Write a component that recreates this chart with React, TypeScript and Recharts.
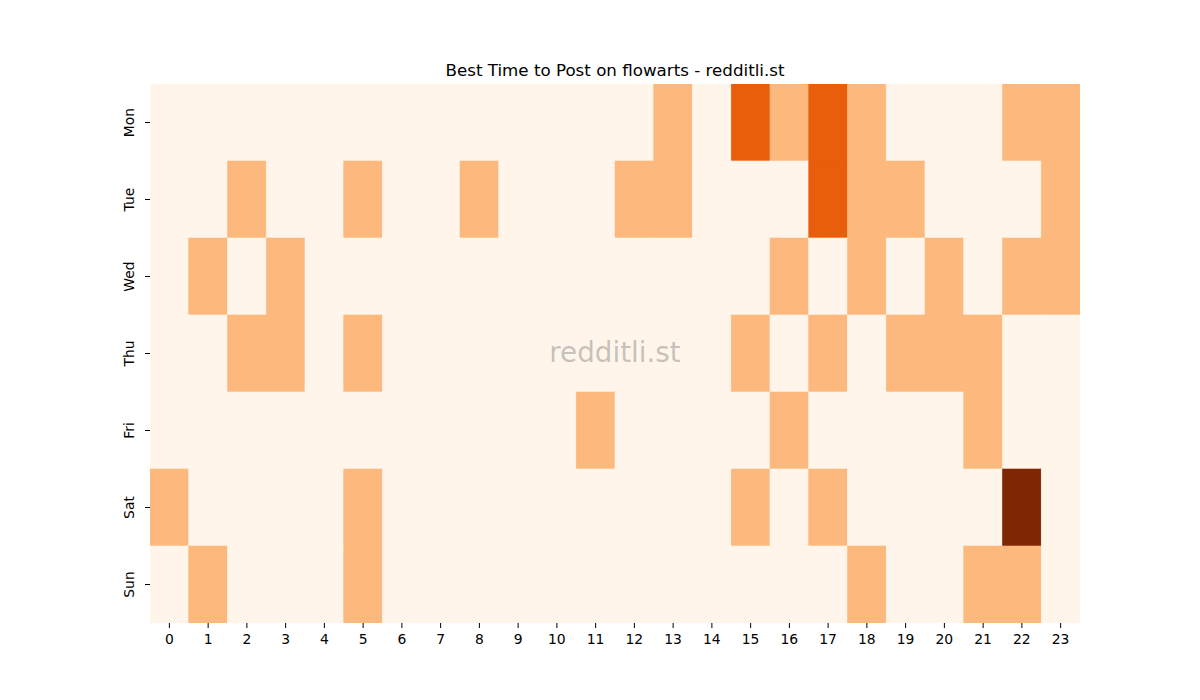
import React from 'react';
import { ScatterChart, Scatter, XAxis, YAxis } from 'recharts';

const hours = [0, 1, 2, 3, 4, 5, 6, 7, 8, 9, 10, 11, 12, 13, 14, 15, 16, 17, 18, 19, 20, 21, 22, 23];
const days = ['Mon', 'Tue', 'Wed', 'Thu', 'Fri', 'Sat', 'Sun'];

const monValues = [0, 0, 0, 0, 0, 0, 0, 0, 0, 0, 0, 0, 0, 1, 0, 2, 1, 2, 1, 0, 0, 0, 1, 1];
const tueValues = [0, 0, 1, 0, 0, 1, 0, 0, 1, 0, 0, 0, 1, 1, 0, 0, 0, 2, 1, 1, 0, 0, 0, 1];
const wedValues = [0, 1, 0, 1, 0, 0, 0, 0, 0, 0, 0, 0, 0, 0, 0, 0, 1, 0, 1, 0, 1, 0, 1, 1];
const thuValues = [0, 0, 1, 1, 0, 1, 0, 0, 0, 0, 0, 0, 0, 0, 0, 1, 0, 1, 0, 1, 1, 1, 0, 0];
const friValues = [0, 0, 0, 0, 0, 0, 0, 0, 0, 0, 0, 1, 0, 0, 0, 0, 1, 0, 0, 0, 0, 1, 0, 0];
const satValues = [1, 0, 0, 0, 0, 1, 0, 0, 0, 0, 0, 0, 0, 0, 0, 1, 0, 1, 0, 0, 0, 0, 3, 0];
const sunValues = [0, 1, 0, 0, 0, 1, 0, 0, 0, 0, 0, 0, 0, 0, 0, 0, 0, 0, 1, 0, 0, 1, 1, 0];

const dayValues = [monValues, tueValues, wedValues, thuValues, friValues, satValues, sunValues];
const levelColors = ['#fff5eb', '#fdb97d', '#e95e0d', '#7f2704'];
const dayTicks = [0, 1, 2, 3, 4, 5, 6];

const W = 1200;
const H = 700;
const M = { top: 84, right: 120, bottom: 47, left: 0 };
const Y_W = 150;
const X_H = 30;
const PLOT_W = W - M.left - M.right - Y_W;
const PLOT_H = H - M.top - M.bottom - X_H;
const CW = PLOT_W / hours.length;
const CH = PLOT_H / days.length;

const cells = dayValues.flatMap((row, d) =>
  hours.map((h, i) => ({ hour: h, day: d, value: row[i] }))
);

const FONT = "'DejaVu Sans', sans-serif";

const CellShape = (props: any) => {
  const { cx, cy, payload } = props;
  const fill = levelColors[payload.value] || levelColors[0];
  return (
    <rect
      x={cx - CW / 2}
      y={cy - CH / 2}
      width={CW}
      height={CH}
      fill={fill}
      stroke={fill}
      strokeWidth={0.6}
    />
  );
};

const YTick = (props: any) => {
  const { x, y, payload } = props;
  const tx = x - 5;
  return (
    <text
      x={tx}
      y={y}
      transform={`rotate(-90, ${tx}, ${y})`}
      textAnchor="middle"
      fontFamily={FONT}
      fontSize={13.9}
      fill="#000"
    >
      {days[payload.value]}
    </text>
  );
};

export default function App() {
  return (
    <div style={{ position: 'absolute', left: 0, top: 0, width: W, height: H, background: '#fff' }}>
      <ScatterChart width={W} height={H} margin={M}>
        <XAxis
          type="number"
          dataKey="hour"
          domain={[-0.5, 23.5]}
          ticks={hours}
          interval={0}
          axisLine={false}
          tickLine={{ stroke: '#000', strokeWidth: 1 }}
          tickSize={5}
          tickMargin={6}
          height={X_H}
          tick={{ fill: '#000', fontSize: 13.9, fontFamily: FONT }}
          allowDataOverflow
        />
        <YAxis
          type="number"
          dataKey="day"
          domain={[-0.5, 6.5]}
          ticks={dayTicks}
          interval={0}
          reversed
          axisLine={false}
          tickLine={{ stroke: '#000', strokeWidth: 1 }}
          tickSize={5}
          tickMargin={6}
          width={Y_W}
          tick={<YTick />}
          allowDataOverflow
        />
        <Scatter data={cells} shape={<CellShape />} isAnimationActive={false} />
      </ScatterChart>
      <svg
        width={W}
        height={H}
        style={{ position: 'absolute', left: 0, top: 0, pointerEvents: 'none' }}
      >
        <text
          x={M.left + Y_W + PLOT_W / 2}
          y={76}
          textAnchor="middle"
          fontFamily={FONT}
          fontSize={16.7}
          fill="#000"
        >
          Best Time to Post on flowarts - redditli.st
        </text>
        <text
          x={M.left + Y_W + PLOT_W / 2}
          y={362}
          textAnchor="middle"
          fontFamily={FONT}
          fontSize={27.8}
          fill="#808080"
          fillOpacity={0.45}
        >
          redditli.st
        </text>
      </svg>
    </div>
  );
}
